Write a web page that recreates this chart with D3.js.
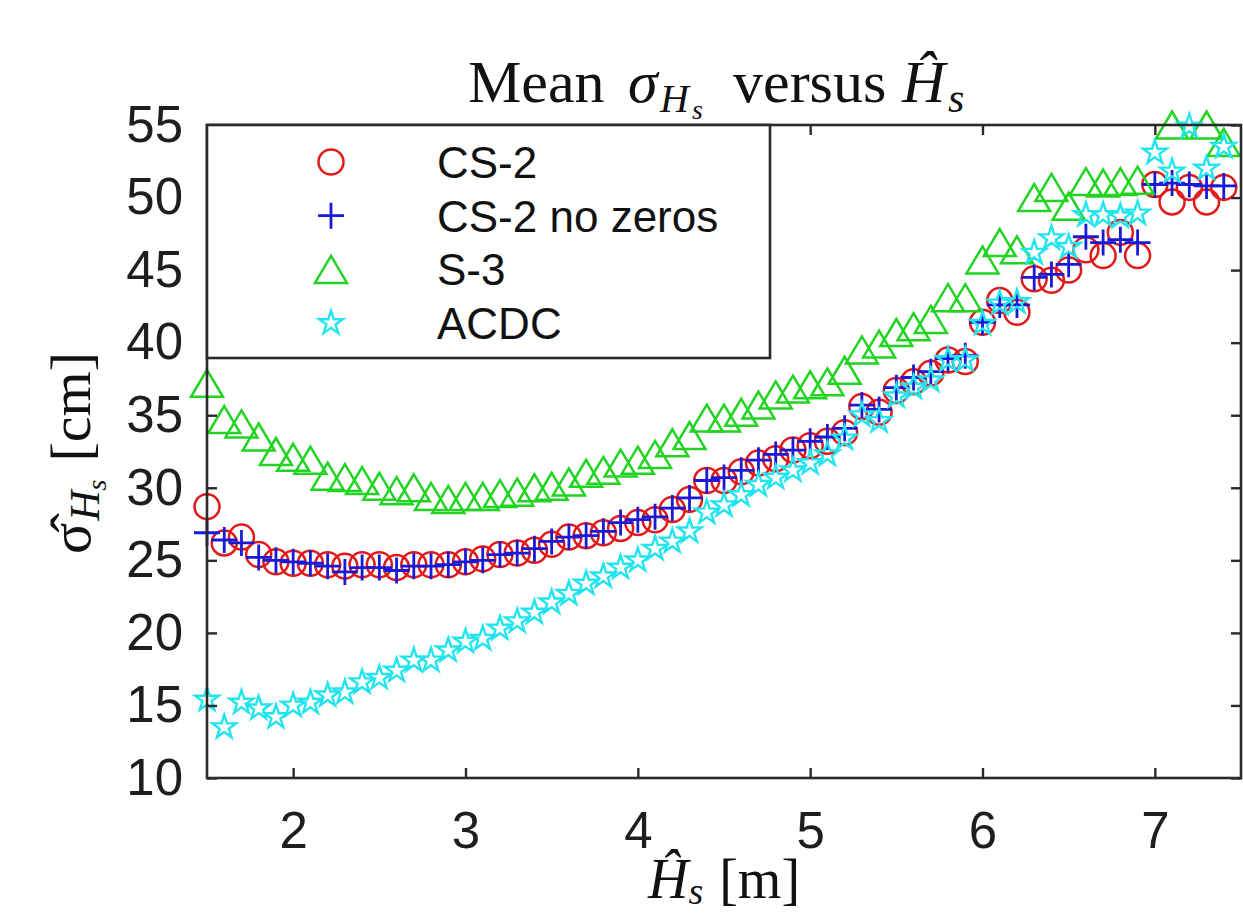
<!DOCTYPE html>
<html>
<head>
<meta charset="utf-8">
<script src="https://cdn.jsdelivr.net/npm/d3@7"></script>
<style>
  body { margin: 0; background: #fff; }
  svg { display: block; }
</style>
</head>
<body>
<div id="chart"></div>
<script>
"use strict";

// x positions (Hs bins, m)
var hs = [1.5, 1.6, 1.7, 1.8, 1.9, 2.0, 2.1, 2.2, 2.3, 2.4,
          2.5, 2.6, 2.7, 2.8, 2.9, 3.0, 3.1, 3.2, 3.3, 3.4,
          3.5, 3.6, 3.7, 3.8, 3.9, 4.0, 4.1, 4.2, 4.3, 4.4,
          4.5, 4.6, 4.7, 4.8, 4.9, 5.0, 5.1, 5.2, 5.3, 5.4,
          5.5, 5.6, 5.7, 5.8, 5.9, 6.0, 6.1, 6.2, 6.3, 6.4,
          6.5, 6.6, 6.7, 6.8, 6.9, 7.0, 7.1, 7.2, 7.3, 7.4];

// mean sigma (cm) per series
var cs2 = [28.7, 26.2, 26.6, 25.4, 24.9, 24.8, 24.8, 24.7, 24.6, 24.7,
           24.7, 24.5, 24.7, 24.7, 24.7, 24.9, 25.1, 25.4, 25.5, 25.7,
           26.1, 26.6, 26.7, 26.9, 27.2, 27.6, 27.8, 28.5, 29.2, 30.5,
           30.5, 31.1, 31.7, 32.0, 32.6, 32.9, 33.2, 33.8, 35.6, 35.2,
           36.7, 37.3, 37.9, 38.8, 38.7, 41.4, 42.9, 42.1, 44.4, 44.3,
           45.0, 46.4, 46.0, 47.6, 46.0, 50.9, 49.7, 50.7, 49.7, 50.7];

var cs2NoZeros = [26.9, 26.4, 26.2, 25.2, 25.0, 24.9, 24.8, 24.6, 24.2, 24.5,
                  24.5, 24.3, 24.6, 24.6, 24.7, 24.9, 25.0, 25.4, 25.5, 25.8,
                  26.3, 26.6, 26.7, 27.0, 27.6, 27.8, 28.0, 28.6, 29.3, 30.5,
                  30.7, 31.2, 31.9, 32.3, 32.6, 33.2, 33.5, 34.1, 35.7, 35.4,
                  36.9, 37.6, 38.0, 38.9, 39.1, 41.4, 42.6, 42.6, 44.5, 44.7,
                  45.4, 47.3, 46.9, 47.1, 46.9, 50.9, 51.0, 50.9, 50.8, 50.8];

var s3 = [37.2, 34.7, 34.4, 33.5, 32.5, 32.1, 31.9, 30.8, 30.7, 30.5,
          30.1, 29.8, 30.0, 29.4, 29.2, 29.4, 29.4, 29.6, 29.7, 30.0,
          30.1, 30.4, 31.0, 31.2, 31.7, 31.9, 32.3, 33.1, 33.6, 34.8,
          34.8, 35.2, 35.7, 36.4, 36.8, 37.1, 37.3, 38.1, 39.5, 39.9,
          40.7, 41.1, 41.6, 43.1, 43.1, 45.7, 46.9, 46.4, 50.0, 50.7,
          49.4, 51.1, 51.0, 51.1, 51.2, null, 55.0, null, 55.0, 53.8];

var acdc = [15.4, 13.5, 15.2, 14.8, 14.2, 15.0, 15.2, 15.7, 15.9, 16.6,
            16.9, 17.4, 18.1, 18.1, 18.8, 19.4, 19.6, 20.3, 20.8, 21.4,
            22.1, 22.7, 23.4, 23.9, 24.5, 25.0, 25.8, 26.3, 27.0, 28.3,
            28.8, 29.5, 30.2, 30.7, 31.2, 31.7, 32.3, 33.4, 35.0, 34.6,
            36.3, 36.9, 37.4, 38.8, 38.8, 41.3, 42.7, 42.8, 46.2, 47.2,
            46.6, 48.8, 48.8, 48.7, 48.9, 53.1, 51.8, 54.9, 52.0, 53.5];

var seriesNames = ["CS-2", "CS-2 no zeros", "S-3", "ACDC"];
var xTicks = [2, 3, 4, 5, 6, 7];
var yTicks = [10, 15, 20, 25, 30, 35, 40, 45, 50, 55];

var W = 1243, H = 919;
var margin = { left: 207, right: 2, top: 125, bottom: 141 };

var svg = d3.select("#chart").append("svg")
  .attr("width", W).attr("height", H);

var x = d3.scaleLinear().domain([1.5, 7.5]).range([margin.left, W - margin.right]);
var y = d3.scaleLinear().domain([10, 55]).range([H - margin.bottom, margin.top]);

var axisColor = "#2a2a2a";
var sans = "'Liberation Sans', Arial, sans-serif";
var serif = "'Liberation Serif', 'Times New Roman', serif";

// marker shapes (same size in plot and legend, as MATLAB does)
function trianglePath(w, h) {
  return "M0," + (-h / 2) + "L" + (w / 2) + "," + (h / 2) + "L" + (-w / 2) + "," + (h / 2) + "Z";
}
function plusPath(a) {
  return "M" + (-a) + ",0H" + a + "M0," + (-a) + "V" + a;
}
var starPath = d3.symbol().type(d3.symbolStar).size(175)();

var series = [
  { name: seriesNames[0], values: cs2, color: "#e01a1a", kind: "circle" },
  { name: seriesNames[1], values: cs2NoZeros, color: "#1a1ad6", kind: "plus" },
  { name: seriesNames[2], values: s3, color: "#22d422", kind: "triangle" },
  { name: seriesNames[3], values: acdc, color: "#22e4ee", kind: "star" }
];

function drawMarker(sel, kind, color) {
  if (kind === "circle") {
    sel.append("circle").attr("r", 12.5)
      .attr("fill", "none").attr("stroke", color).attr("stroke-width", 2.5);
  } else if (kind === "plus") {
    sel.append("path").attr("d", plusPath(13))
      .attr("fill", "none").attr("stroke", color).attr("stroke-width", 2.8);
  } else if (kind === "triangle") {
    sel.append("path").attr("d", trianglePath(32, 27))
      .attr("fill", "none").attr("stroke", color).attr("stroke-width", 2.5);
  } else {
    sel.append("path").attr("d", starPath)
      .attr("fill", "none").attr("stroke", color).attr("stroke-width", 2.4);
  }
}

// data markers
series.forEach(function (s) {
  var pts = hs.map(function (h, i) { return { h: h, v: s.values[i] }; })
              .filter(function (d) { return d.v !== null; });
  svg.append("g").attr("class", "series")
    .selectAll("g")
    .data(pts)
    .enter()
    .append("g")
    .attr("transform", function (d) { return "translate(" + x(d.h) + "," + y(d.v) + ")"; })
    .each(function () { drawMarker(d3.select(this), s.kind, s.color); });
});

// axes (ticks pointing inward on all four sides)
var gx = svg.append("g")
  .attr("transform", "translate(0," + y(10) + ")")
  .call(d3.axisBottom(x).tickValues(xTicks).tickSizeInner(-10).tickSizeOuter(0).tickPadding(34)
    .tickFormat(d3.format("d")));
var gxt = svg.append("g")
  .attr("transform", "translate(0," + y(55) + ")")
  .call(d3.axisTop(x).tickValues(xTicks).tickSizeInner(-10).tickSizeOuter(0).tickFormat(""));
var gy = svg.append("g")
  .attr("transform", "translate(" + x(1.5) + ",0)")
  .call(d3.axisLeft(y).tickValues(yTicks).tickSizeInner(-10).tickSizeOuter(0).tickPadding(24));
var gyr = svg.append("g")
  .attr("transform", "translate(" + x(7.5) + ",0)")
  .call(d3.axisRight(y).tickValues(yTicks).tickSizeInner(-10).tickSizeOuter(0).tickFormat(""));

[gx, gxt, gy, gyr].forEach(function (g) {
  g.select(".domain").remove();
  g.selectAll(".tick line").attr("stroke", axisColor).attr("stroke-width", 2.4);
  g.selectAll(".tick text").attr("fill", "#1e1e1e")
    .style("font-family", sans).style("font-size", "51px");
});

svg.append("rect")
  .attr("x", x(1.5)).attr("y", y(55))
  .attr("width", x(7.5) - x(1.5)).attr("height", y(10) - y(55))
  .attr("fill", "none").attr("stroke", axisColor).attr("stroke-width", 2.6);

// legend
var legend = svg.append("g");
legend.append("rect")
  .attr("x", x(1.5)).attr("y", y(55))
  .attr("width", 563).attr("height", 233)
  .attr("fill", "#fff").attr("stroke", axisColor).attr("stroke-width", 2.6);

series.forEach(function (s, i) {
  var cy = 162 + i * 53.7;
  var item = legend.append("g").attr("transform", "translate(331," + cy + ")");
  drawMarker(item, s.kind, s.color);
  legend.append("text")
    .attr("x", 437).attr("y", cy + 16)
    .attr("fill", "#111")
    .style("font-family", sans).style("font-size", "44px")
    .text(s.name);
});

// title:  Mean σ_{H_s} versus Ĥ_s
var title = svg.append("text")
  .attr("y", 102)
  .attr("fill", "#111")
  .style("font-family", serif).style("font-size", "60px");
title.append("tspan").attr("x", 468).text("Mean");
title.append("tspan").attr("x", 628).style("font-style", "italic").text("\u03c3");
title.append("tspan").attr("x", 660).attr("dy", 10).style("font-style", "italic").style("font-size", "40px").text("H");
title.append("tspan").attr("x", 692).attr("dy", 7).style("font-style", "italic").style("font-size", "28px").text("s");
title.append("tspan").attr("x", 733).attr("dy", -17).text("versus");
title.append("tspan").attr("x", 902).style("font-style", "italic").text("\u0124");
title.append("tspan").attr("x", 948).attr("dy", 10).style("font-style", "italic").style("font-size", "42px").text("s");

// x label:  Ĥ_s [m]
var xl = svg.append("text")
  .attr("x", 724).attr("y", 898)
  .attr("text-anchor", "middle")
  .attr("fill", "#111")
  .style("font-family", serif).style("font-size", "56px");
xl.append("tspan").style("font-style", "italic").text("\u0124");
xl.append("tspan").style("font-style", "italic").style("font-size", "38px").attr("dy", 6).text("s");
xl.append("tspan").attr("dy", -6).attr("dx", 16).text("[m]");

// y label:  σ̂_{H_s} [cm]
var yl = svg.append("text")
  .attr("transform", "translate(90,453) rotate(-90)")
  .attr("text-anchor", "middle")
  .attr("fill", "#111")
  .style("font-family", serif).style("font-size", "58px");
yl.append("tspan").text("\u03c3\u0302");
yl.append("tspan").style("font-style", "italic").style("font-size", "42px").attr("dy", 9).attr("dx", 2).text("H");
yl.append("tspan").style("font-style", "italic").style("font-size", "28px").attr("dy", 7).text("s");
yl.append("tspan").attr("dy", -16).attr("dx", 18).text("[cm]");
</script>
</body>
</html>
